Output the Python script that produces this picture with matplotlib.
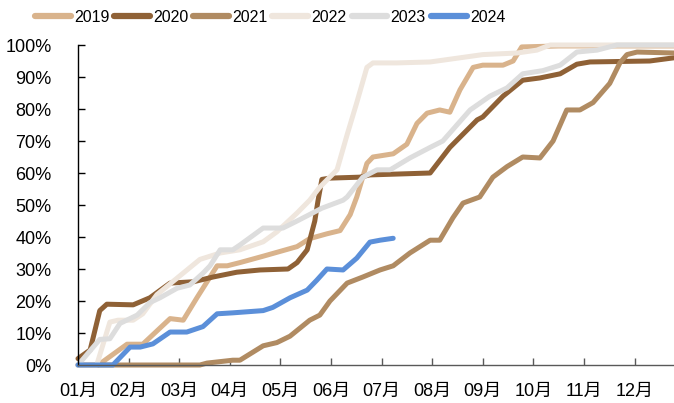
import matplotlib
matplotlib.use("Agg")
import matplotlib.pyplot as plt
from matplotlib.ticker import FixedLocator, FuncFormatter

plt.rcParams['font.family'] = ['Liberation Sans', 'Noto Sans CJK SC', 'DejaVu Sans']

# x positions are in months since 01月 (0 = start of January)
months = ["01月", "02月", "03月", "04月", "05月", "06月",
          "07月", "08月", "09月", "10月", "11月", "12月"]

years = ["2019", "2020", "2021", "2022", "2023", "2024"]
colors = ["#D9B38C", "#8F6136", "#B08B62", "#EFE6DD", "#DDDDDD", "#5B8FD9"]

x_2019 = [0, 0.40, 0.97, 1.28, 1.82, 2.08, 2.35, 2.75, 2.95, 3.20, 3.66, 4.33,
          4.58, 4.92, 5.18, 5.38, 5.51, 5.71, 5.83, 6.23, 6.50, 6.70, 6.90,
          7.15, 7.35, 7.55, 7.81, 8.00, 8.40, 8.60, 8.77, 9.50, 11.78]
y_2019 = [0, 0, 6.5, 6.5, 14.5, 14, 21, 31, 31, 32, 34, 37,
          39.5, 41, 42, 47, 52.5, 63, 65, 66, 69, 75.5, 78.7,
          79.7, 79, 86, 93, 93.7, 93.7, 95, 99.4, 99.7, 99.7]

x_2020 = [0, 0.24, 0.43, 0.57, 1.09, 1.42, 1.82, 2.28, 2.67, 3.14, 3.60,
          4.15, 4.33, 4.53, 4.68, 4.74, 4.82, 4.98, 5.57, 5.77, 6.96, 7.35,
          7.89, 8.00, 8.40, 8.79, 9.13, 9.53, 9.86, 10.12, 11.30, 11.78]
y_2020 = [2, 4.7, 17, 19, 18.8, 21, 25.6, 26, 27.5, 29, 29.7,
          30, 32, 36, 45, 51, 58, 58.4, 58.7, 59.4, 60, 68,
          76.6, 77.5, 84, 89, 89.7, 91, 94, 94.7, 95, 96]

x_2021 = [0, 2.41, 2.55, 3.06, 3.20, 3.66, 3.93, 4.19, 4.58, 4.78, 4.98, 5.32,
          5.63, 5.97, 6.23, 6.56, 6.96, 7.15, 7.41, 7.61, 7.94, 8.20, 8.48,
          8.79, 9.13, 9.39, 9.66, 9.92, 10.18, 10.51, 10.71, 10.85, 11.05, 11.78]
y_2021 = [0, 0, 0.6, 1.5, 1.5, 6, 7, 9, 14, 15.6, 20, 25.6,
          27.5, 29.7, 31, 35, 39, 39, 46, 50.6, 52.5, 58.7, 62,
          65, 64.7, 70, 79.7, 79.7, 82, 88, 94.4, 97, 97.8, 97.5]

x_2022 = [0, 0.37, 0.63, 0.79, 1.09, 1.28, 1.56, 2.41, 2.81, 3.20, 3.66, 3.93,
          4.33, 4.58, 4.78, 5.12, 5.32, 5.51, 5.71, 5.83, 6.30, 6.96, 7.55,
          8.00, 8.68, 9.07, 9.33, 11.78]
y_2022 = [0, 0, 13.4, 14, 14, 16, 22, 33, 35, 36, 38.5, 41.6,
          47.5, 51.5, 55.6, 61, 72, 82, 93, 94.4, 94.4, 94.7, 96,
          97, 97.5, 98.4, 100, 100]

x_2023 = [0, 0.43, 0.63, 0.83, 1.17, 1.42, 1.62, 1.96, 2.21, 2.47, 2.61,
          2.81, 3.06, 3.20, 3.66, 4.05, 4.33, 4.82, 5.24, 5.32, 5.63, 5.91,
          6.17, 6.56, 6.96, 7.21, 7.35, 7.75, 8.14, 8.48, 8.79, 9.19, 9.53,
          9.86, 10.26, 10.65, 11.78]
y_2023 = [0, 8, 8.2, 13, 15.6, 19.5, 21, 24, 25, 28.7, 31,
          36, 36, 37.5, 42.8, 42.8, 45, 49, 51.5, 52.5, 58.7, 61,
          61, 64.7, 68, 70, 72.5, 79.7, 84, 86.6, 91, 92, 93.7,
          97.8, 98.4, 100, 100]

x_2024 = [0, 0.69, 1.03, 1.23, 1.48, 1.82, 2.15, 2.47, 2.75, 3.06, 3.66, 3.85,
          4.19, 4.53, 4.72, 4.92, 5.24, 5.51, 5.77, 5.97, 6.23]
y_2024 = [0, 0, 5.6, 5.6, 6.6, 10.3, 10.3, 12, 16, 16.3, 17, 18,
          21, 23.4, 26.5, 30, 29.7, 33.4, 38.4, 39, 39.6]

series_x = [x_2019, x_2020, x_2021, x_2022, x_2023, x_2024]
series_y = [y_2019, y_2020, y_2021, y_2022, y_2023, y_2024]

fig = plt.figure(figsize=(6.74, 4.03), dpi=100)
ax = fig.add_axes([78 / 674, 38 / 403, 596 / 674, 320 / 403])

for xs, ys, c, lab in zip(series_x, series_y, colors, years):
    ax.plot(xs, ys, color=c, lw=3.6, label=lab, clip_on=False,
            solid_joinstyle='round', solid_capstyle='round')

ax.set_xlim(0, 11.78)
ax.set_ylim(0, 100)

ax.xaxis.set_major_locator(FixedLocator(range(12)))
ax.set_xticklabels(months)
ax.yaxis.set_major_locator(FixedLocator(range(0, 101, 10)))
ax.yaxis.set_major_formatter(FuncFormatter(lambda v, p: f"{int(v)}%"))

for s in ("top", "right"):
    ax.spines[s].set_visible(False)
ax.spines["left"].set_color("#000000")
ax.spines["bottom"].set_color("#595959")
ax.spines["left"].set_linewidth(1.0)
ax.spines["bottom"].set_linewidth(1.0)

ax.tick_params(axis="x", direction="in", length=5, width=1, color="#595959",
               labelsize=13, pad=13)
ax.tick_params(axis="y", direction="in", length=5, width=1, color="#000000",
               labelsize=13, pad=19)

leg = fig.legend(loc="center", bbox_to_anchor=(270 / 674, 1 - 17 / 403),
                 ncol=6, frameon=False, fontsize=11.5,
                 handlelength=2.25, handletextpad=0.2, columnspacing=0.3,
                 borderaxespad=0)
for h in leg.get_lines():
    h.set_linewidth(4.5)

fig.savefig("out.png", dpi=100)
